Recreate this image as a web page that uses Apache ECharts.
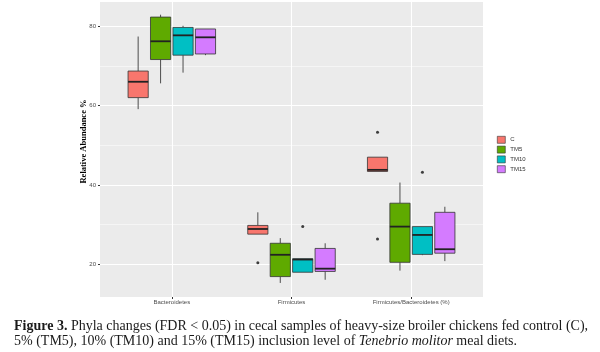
<!DOCTYPE html>
<html>
<head>
<meta charset="utf-8">
<script src="https://cdn.jsdelivr.net/npm/echarts@6/dist/echarts.min.js"></script>
<style>
  html, body { margin: 0; padding: 0; background: #fff; }
  #chart { width: 600px; height: 352px; }
</style>
</head>
<body>
<div id="chart"></div>
<script>
// categories on the x axis, groups = boxes inside each category
const categories = ['Bacteroidetes', 'Firmicutes', 'Firmicutes/Bacteroidetes (%)'];
const groups = ['C', 'TM5', 'TM10', 'TM15'];
const colors = ['#F8766D', '#5FAA00', '#00BFC4', '#D47BFF'];

// [min, q1, median, q3, max] per category
const boxC = [[59.1, 62.0, 66.0, 68.7, 77.4], [27.6, 27.6, 28.9, 29.8, 33.1], [43.4, 43.4, 43.8, 47.0, 47.0]];
const boxTM5 = [[65.6, 71.6, 76.2, 82.3, 82.9], [15.3, 16.9, 22.4, 25.3, 26.6], [18.4, 20.5, 29.5, 35.4, 40.6]];
const boxTM10 = [[68.3, 72.7, 77.7, 79.7, 80.1], [18.0, 18.0, 21.2, 21.4, 21.4], [22.3, 22.5, 27.4, 29.5, 29.5]];
const boxTM15 = [[72.7, 73.0, 77.2, 79.3, 79.3], [16.1, 18.2, 18.9, 24.0, 25.3], [20.8, 22.8, 23.8, 33.1, 34.5]];

// outliers: [category index, value]
const outC = [[1, 20.4], [2, 26.4], [2, 53.3]];
const outTM5 = [];
const outTM10 = [[1, 29.5], [2, 43.2]];
const outTM15 = [];

const yTicks = [20, 40, 60, 80];
const yMinor = [30, 50, 70];

const boxes = [boxC, boxTM5, boxTM10, boxTM15];
const outs = [outC, outTM5, outTM10, outTM15];

const dodge = 0.75 / groups.length;   // ggplot dodge width
const halfW = dodge * 0.9 / 2;

const chart = echarts.init(document.getElementById('chart'));

const series = [];
groups.forEach((g, gi) => {
    const offset = (gi - (groups.length - 1) / 2) * dodge;
    series.push({
        name: g,
        type: 'custom',
        itemStyle: { color: colors[gi], borderColor: '#333' },
        encode: { x: 0, y: [1, 2, 3, 4, 5] },
        data: boxes[gi].map((b, ci) => [ci + 1].concat(b)),
        renderItem: (params, api) => {
            const x = api.value(0) + offset;
            const pMin = api.coord([x, api.value(1)]);
            const pQ1 = api.coord([x, api.value(2)]);
            const pMed = api.coord([x, api.value(3)]);
            const pQ3 = api.coord([x, api.value(4)]);
            const pMax = api.coord([x, api.value(5)]);
            const left = api.coord([x - halfW, api.value(3)])[0];
            const right = api.coord([x + halfW, api.value(3)])[0];
            const line = { stroke: '#4d4d4d', lineWidth: 1 };
            return {
                type: 'group',
                children: [
                    { type: 'line', shape: { x1: pQ3[0], y1: pQ3[1], x2: pMax[0], y2: pMax[1] }, style: line },
                    { type: 'line', shape: { x1: pQ1[0], y1: pQ1[1], x2: pMin[0], y2: pMin[1] }, style: line },
                    {
                        type: 'rect',
                        shape: { x: left, y: pQ3[1], width: right - left, height: pQ1[1] - pQ3[1] },
                        style: { fill: colors[gi], stroke: '#333', lineWidth: 0.8 }
                    },
                    { type: 'line', shape: { x1: left, y1: pMed[1], x2: right, y2: pMed[1] }, style: { stroke: '#222', lineWidth: 1.8 } }
                ]
            };
        }
    });
    if (outs[gi].length) {
        series.push({
            name: g + ' outliers',
            type: 'scatter',
            symbolSize: 3,
            itemStyle: { color: '#111' },
            data: outs[gi].map(o => [o[0] + 1 + offset, o[1]])
        });
    }
});

const option = {
    animation: false,
    title: {
        text: '{b|Figure 3.} Phyla changes (FDR < 0.05) in cecal samples of heavy-size broiler chickens fed control (C),\n5% (TM5), 10% (TM10) and 15% (TM15) inclusion level of {i|Tenebrio molitor} meal diets.',
        left: 9,
        top: 314,
        textStyle: {
            fontFamily: 'Liberation Serif',
            fontSize: 14,
            fontWeight: 'normal',
            color: '#1a1a1a',
            lineHeight: 15,
            rich: {
                b: { fontFamily: 'Liberation Serif', fontSize: 14, fontWeight: 'bold', color: '#1a1a1a', lineHeight: 15 },
                i: { fontFamily: 'Liberation Serif', fontSize: 14, fontStyle: 'italic', color: '#1a1a1a', lineHeight: 15 }
            }
        }
    },
    legend: {
        orient: 'vertical',
        left: 492,
        top: 131,
        itemWidth: 8,
        itemHeight: 7,
        itemGap: 2.2,
        icon: 'rect',
        textStyle: { fontSize: 6, color: '#333', fontFamily: 'Liberation Sans' },
        data: groups.map((g, gi) => ({ name: g, itemStyle: { color: colors[gi], borderColor: '#333', borderWidth: 0.6 } }))
    },
    grid: {
        left: 100,
        right: 117,
        top: 2,
        bottom: 55,
        show: true,
        backgroundColor: '#EBEBEB',
        borderWidth: 0
    },
    xAxis: {
        type: 'value',
        min: 0.4,
        max: 3.6,
        axisLine: { show: false },
        axisTick: { show: true, customValues: [1, 2, 3], length: 2, lineStyle: { color: '#333' } },
        axisLabel: {
            customValues: [1, 2, 3],
            formatter: v => categories[Math.round(v) - 1],
            fontSize: 6,
            color: '#4d4d4d',
            fontFamily: 'Liberation Sans',
            margin: 2
        },
        splitLine: { show: true, lineStyle: { color: '#ffffff', width: 1.1 } }
    },
    yAxis: [
        {
            type: 'value',
            min: 11.76,
            max: 86.1,
            name: 'Relative Abundance %',
            nameLocation: 'middle',
            nameGap: 12,
            nameMoveOverlap: false,
            nameTextStyle: { fontFamily: 'Liberation Serif', fontWeight: 'bold', fontSize: 8.5, color: '#000', padding: [0, 0, 0, 16] },
            axisLine: { show: false },
            axisTick: { show: true, customValues: yTicks, length: 2, lineStyle: { color: '#333' } },
            axisLabel: { customValues: yTicks, fontSize: 6, color: '#4d4d4d', fontFamily: 'Liberation Sans', margin: 4 },
            splitLine: { show: true, lineStyle: { color: '#ffffff', width: 1.1 } }
        },
        {
            type: 'value',
            min: 11.76,
            max: 86.1,
            axisLine: { show: false },
            axisTick: { show: false, customValues: yMinor },
            axisLabel: { show: false, customValues: yMinor },
            splitLine: { show: true, lineStyle: { color: '#ffffff', width: 0.5 } }
        }
    ],
    series: series
};

chart.setOption(option);
</script>
</body>
</html>
